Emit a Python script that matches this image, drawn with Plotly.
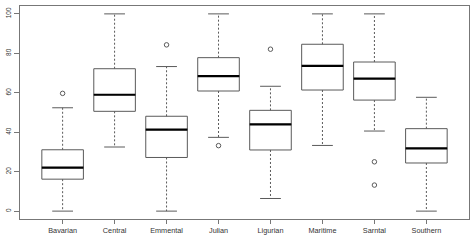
import plotly.graph_objects as go

categories = ["Bavarian", "Central", "Emmental", "Julian", "Ligurian", "Maritime", "Sarntal", "Southern"]
lower_whisker = [0.0, 32.5, 0.0, 37.4, 6.4, 33.3, 40.6, 0.0]
q1 = [16.2, 50.6, 27.2, 60.9, 31.0, 61.4, 56.3, 24.4]
median = [22.0, 59.0, 41.3, 68.4, 44.0, 73.6, 67.2, 31.8]
q3 = [31.1, 72.2, 48.1, 77.8, 51.1, 84.6, 75.6, 41.8]
upper_whisker = [52.4, 100.0, 73.3, 100.0, 63.3, 100.0, 100.0, 57.7]
outlier_cat = ["Bavarian", "Emmental", "Julian", "Ligurian", "Sarntal", "Sarntal"]
outlier_val = [59.7, 84.3, 33.2, 82.1, 25.0, 13.2]
y_ticks = [0, 20, 40, 60, 80, 100]

LINE = "#5a5a5a"
pos = {c: i + 1 for i, c in enumerate(categories)}
xs = [pos[c] for c in categories]
BOX_HALF = 0.4
CAP_HALF = 0.2

fig = go.Figure()

fig.add_trace(go.Box(
    x=xs, q1=q1, median=median, q3=q3,
    lowerfence=q1, upperfence=q3,
    width=2 * BOX_HALF, fillcolor="white",
    line=dict(color=LINE, width=1), whiskerwidth=0,
    boxpoints=False, showlegend=False, hoverinfo="skip",
))

wx, wy = [], []
for x, a, b, c, d in zip(xs, q3, upper_whisker, q1, lower_whisker):
    wx += [x, x, None, x, x, None]
    wy += [a, b, None, c, d, None]
fig.add_trace(go.Scatter(x=wx, y=wy, mode="lines",
                         line=dict(color=LINE, width=1, dash="2px,2px"),
                         showlegend=False, hoverinfo="skip"))

cx, cy = [], []
for x, u, l in zip(xs, upper_whisker, lower_whisker):
    cx += [x - CAP_HALF, x + CAP_HALF, None, x - CAP_HALF, x + CAP_HALF, None]
    cy += [u, u, None, l, l, None]
fig.add_trace(go.Scatter(x=cx, y=cy, mode="lines",
                         line=dict(color=LINE, width=1),
                         showlegend=False, hoverinfo="skip"))

mx, my = [], []
for x, m in zip(xs, median):
    mx += [x - BOX_HALF, x + BOX_HALF, None]
    my += [m, m, None]
fig.add_trace(go.Scatter(x=mx, y=my, mode="lines",
                         line=dict(color="black", width=2.2),
                         showlegend=False, hoverinfo="skip"))

fig.add_trace(go.Scatter(x=[pos[c] for c in outlier_cat], y=outlier_val, mode="markers",
                         marker=dict(symbol="circle-open", size=4.5, color=LINE, line=dict(width=1)),
                         showlegend=False, hoverinfo="skip"))

fig.update_layout(
    width=474, height=246,
    margin=dict(l=20, r=5, t=6, b=27),
    paper_bgcolor="white", plot_bgcolor="white",
    font=dict(family="Liberation Sans, Arial, sans-serif", color="#333"),
)
fig.update_xaxes(
    range=[0.18, 8.82], tickvals=xs, ticktext=categories,
    showgrid=False, zeroline=False, showline=True, mirror=True,
    linecolor="#777", linewidth=1, ticks="outside", ticklen=4, tickcolor="#777",
    tickfont=dict(size=7.3),
)
fig.update_yaxes(
    range=[-4, 104], tickvals=y_ticks, ticktext=[str(v) for v in y_ticks],
    showgrid=False, zeroline=False, showline=True, mirror=True,
    linecolor="#777", linewidth=1, ticks="outside", ticklen=5, tickcolor="#777",
    tickangle=-90, tickfont=dict(size=6.5),
)

fig.write_html("out.html")
